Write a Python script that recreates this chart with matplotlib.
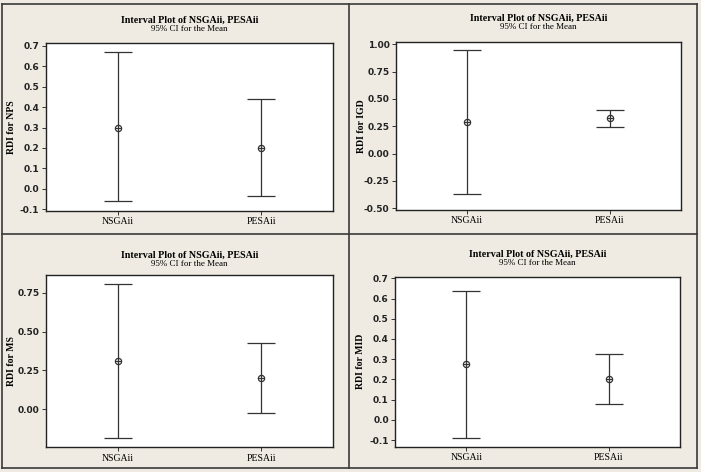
"""Minitab-style interval plots (95% CI for the mean) of RDI for four metrics."""

import matplotlib
matplotlib.use("Agg")
import matplotlib.pyplot as plt
from matplotlib.lines import Line2D

algorithms = ["NSGAii", "PESAii"]
metrics = ["NPS", "IGD", "MS", "MID"]

mean_nps = [0.300, 0.201]
low_nps = [-0.059, -0.036]
high_nps = [0.668, 0.439]

mean_igd = [0.292, 0.326]
low_igd = [-0.372, 0.246]
high_igd = [0.950, 0.396]

mean_ms = [0.310, 0.203]
low_ms = [-0.184, -0.026]
high_ms = [0.804, 0.428]

mean_mid = [0.274, 0.203]
low_mid = [-0.091, 0.076]
high_mid = [0.636, 0.325]

BG = "#EFEBE2"
LINE = "#333333"
SERIF = "Liberation Serif"
W, H = 701, 472

fig = plt.figure(figsize=(W / 100, H / 100), dpi=100, facecolor=BG)

# axes rect (fig fraction), y limits, y ticks, tick format, title/subtitle y (pixels)
panels = [
    ("NPS", mean_nps, low_nps, high_nps, [0.0652, 0.5536, 0.4098, 0.3559],
     (-0.107, 0.715), [-0.1, 0.0, 0.1, 0.2, 0.3, 0.4, 0.5, 0.6, 0.7], "{:.1f}", 20, 29),
    ("IGD", mean_igd, low_igd, high_igd, [0.5645, 0.5551, 0.4070, 0.3566],
     (-0.516, 1.024), [-0.5, -0.25, 0.0, 0.25, 0.5, 0.75, 1.0], "{:.2f}", 18.5, 27),
    ("MS", mean_ms, low_ms, high_ms, [0.0652, 0.0523, 0.4098, 0.3644],
     (-0.244, 0.861), [0.0, 0.25, 0.5, 0.75], "{:.2f}", 255, 264),
    ("MID", mean_mid, low_mid, high_mid, [0.5635, 0.0536, 0.4065, 0.3602],
     (-0.133, 0.708), [-0.1, 0.0, 0.1, 0.2, 0.3, 0.4, 0.5, 0.6, 0.7], "{:.1f}", 254, 263),
]

xs = [1, 2]
for name, means, lows, highs, rect, ylim, yticks, fmt, ty, sy in panels:
    ax = fig.add_axes(rect, facecolor="white")
    yerr = [[m - lo for m, lo in zip(means, lows)],
            [hi - m for m, hi in zip(means, highs)]]
    ax.errorbar(xs, means, yerr=yerr, fmt="none", ecolor=LINE,
                elinewidth=0.9, capsize=10, capthick=0.9)
    ax.plot(xs, means, "o", ms=4.5, mfc="none", mec=LINE, mew=0.9)
    ax.plot(xs, means, "+", ms=4.5, color=LINE, mew=0.8)

    ax.set_xlim(0.5, 2.5)
    ax.set_ylim(*ylim)
    ax.set_xticks(xs)
    ax.set_xticklabels(algorithms, family=SERIF, fontsize=7)
    ax.set_yticks(yticks)
    ax.set_yticklabels([fmt.format(v) for v in yticks], fontsize=6.5,
                       fontweight="bold", color="#222222")
    ax.tick_params(axis="both", length=3, width=0.7, color=LINE, pad=1.5)
    for sp in ax.spines.values():
        sp.set_color("#222222")
        sp.set_linewidth(1.0)
    ax.set_ylabel(f"RDI for {name}", family=SERIF, fontsize=7, fontweight="bold")
    ax.yaxis.set_label_coords(-0.104, 0.5)

    cx = rect[0] + rect[2] / 2
    fig.text(cx, 1 - ty / H, "Interval Plot of NSGAii, PESAii", ha="center",
             va="center", family=SERIF, fontsize=7.2, fontweight="bold")
    fig.text(cx, 1 - sy / H, "95% CI for the Mean", ha="center", va="center",
             family=SERIF, fontsize=6.5)

# panel frames
x0, x1, xm = 2.3 / W, 696.7 / W, 349.3 / W
y0, y1, ym = 1 - 468 / H, 1 - 4 / H, 1 - 234 / H
for xa, ya, xb, yb in [(x0, y0, x1, y0), (x0, y1, x1, y1), (x0, y0, x0, y1),
                       (x1, y0, x1, y1), (xm, y0, xm, y1), (x0, ym, x1, ym)]:
    fig.add_artist(Line2D([xa, xb], [ya, yb], transform=fig.transFigure,
                          color="#3a3a3a", lw=1.2))

fig.savefig("out.png", dpi=100, facecolor=BG)
